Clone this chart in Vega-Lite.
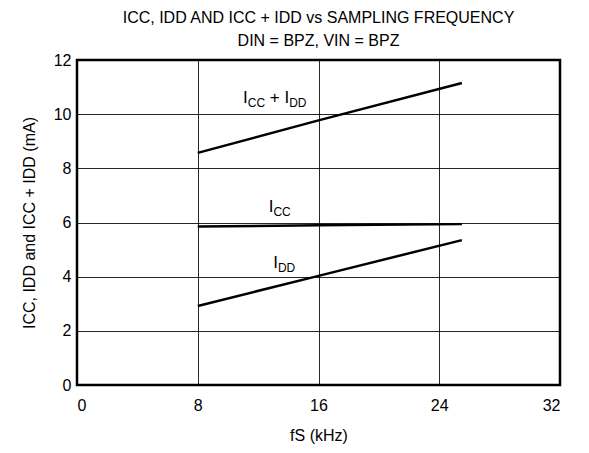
{
  "$schema": "https://vega.github.io/schema/vega-lite/v6.json",
  "width": 483,
  "height": 325,
  "autosize": "none",
  "padding": {"left": 77, "top": 60, "right": 29, "bottom": 68},
  "background": "white",
  "title": {
    "text": ["ICC, IDD AND ICC + IDD vs SAMPLING FREQUENCY", "DIN = BPZ, VIN = BPZ"],
    "fontSize": 16,
    "fontWeight": "normal",
    "font": "Liberation Sans",
    "color": "black",
    "lineHeight": 23,
    "anchor": "middle",
    "offset": 3
  },
  "datasets": {
    "curves": [
      {"series": "ICC + IDD", "fs": 8, "current": 8.57},
      {"series": "ICC + IDD", "fs": 16, "current": 9.77},
      {"series": "ICC + IDD", "fs": 25.5, "current": 11.15},
      {"series": "ICC", "fs": 8, "current": 5.85},
      {"series": "ICC", "fs": 16, "current": 5.9},
      {"series": "ICC", "fs": 25.5, "current": 5.94},
      {"series": "IDD", "fs": 8, "current": 2.92},
      {"series": "IDD", "fs": 16, "current": 4.03},
      {"series": "IDD", "fs": 25.5, "current": 5.35}
    ],
    "labels": [
      {"part": "main", "text": "I", "fs": 11.0, "current": 10.4},
      {"part": "sub", "text": "CC", "fs": 11.313, "current": 10.4},
      {"part": "main", "text": "+ I", "fs": 12.773, "current": 10.4},
      {"part": "sub", "text": "DD", "fs": 14.056, "current": 10.4},
      {"part": "main", "text": "I", "fs": 12.7, "current": 6.38},
      {"part": "sub", "text": "CC", "fs": 13.013, "current": 6.38},
      {"part": "main", "text": "I", "fs": 13.0, "current": 4.32},
      {"part": "sub", "text": "DD", "fs": 13.313, "current": 4.32}
    ]
  },
  "layer": [
    {
      "data": {"name": "curves"},
      "mark": {"type": "line", "color": "black", "strokeWidth": 2.5},
      "encoding": {
        "x": {
          "field": "fs", "type": "quantitative",
          "scale": {"domain": [0, 32], "nice": false, "zero": false},
          "axis": {"values": [0, 8, 16, 24, 32], "title": "fS (kHz)"}
        },
        "y": {
          "field": "current", "type": "quantitative",
          "scale": {"domain": [0, 12], "nice": false},
          "axis": {"values": [0, 2, 4, 6, 8, 10, 12], "title": "ICC, IDD and ICC + IDD (mA)"}
        },
        "detail": {"field": "series", "type": "nominal"}
      }
    },
    {
      "data": {"name": "labels"},
      "transform": [{"filter": "datum.part === 'main'"}],
      "mark": {"type": "text", "align": "left", "baseline": "alphabetic", "fontSize": 17, "font": "Liberation Sans", "color": "black"},
      "encoding": {
        "x": {"field": "fs", "type": "quantitative"},
        "y": {"field": "current", "type": "quantitative"},
        "text": {"field": "text"}
      }
    },
    {
      "data": {"name": "labels"},
      "transform": [{"filter": "datum.part === 'sub'"}],
      "mark": {"type": "text", "align": "left", "baseline": "alphabetic", "fontSize": 12, "dy": 4, "font": "Liberation Sans", "color": "black"},
      "encoding": {
        "x": {"field": "fs", "type": "quantitative"},
        "y": {"field": "current", "type": "quantitative"},
        "text": {"field": "text"}
      }
    }
  ],
  "config": {
    "view": {"stroke": "black", "strokeWidth": 2.5},
    "font": "Liberation Sans",
    "axis": {
      "domain": false,
      "ticks": false,
      "grid": true,
      "gridColor": "black",
      "gridWidth": 1,
      "gridOpacity": 0.85,
      "labelFont": "Liberation Sans",
      "labelFontSize": 16,
      "labelColor": "black",
      "titleFont": "Liberation Sans",
      "titleFontSize": 16,
      "titleFontWeight": "normal",
      "titleColor": "black"
    },
    "axisX": {"labelPadding": 12, "titlePadding": 14},
    "axisY": {"labelPadding": 6, "titlePadding": 16}
  }
}
